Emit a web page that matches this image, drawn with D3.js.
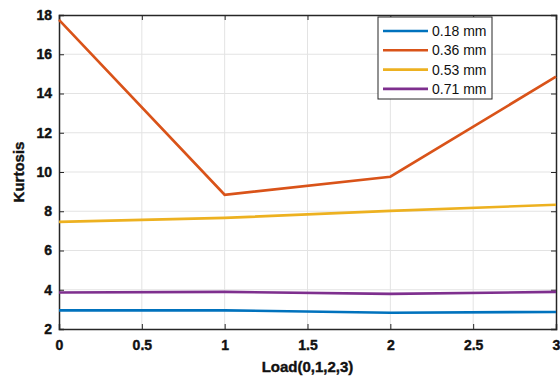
<!DOCTYPE html>
<html><head><meta charset="utf-8">
<script src="https://cdn.jsdelivr.net/npm/d3@7"></script>
<style>body{margin:0;background:#fff}svg{display:block}</style>
</head><body>
<script>
const loads = [0, 1, 2, 3];
const seriesNames = ["0.18 mm", "0.36 mm", "0.53 mm", "0.71 mm"];
const s018 = [2.95, 2.95, 2.83, 2.87];
const s036 = [17.75, 8.84, 9.76, 14.86];
const s053 = [7.46, 7.66, 8.02, 8.33];
const s071 = [3.86, 3.89, 3.79, 3.89];
const colors = ["#0072BD", "#D95319", "#EDB120", "#7E2F8E"];
const xTicks = [0, 0.5, 1, 1.5, 2, 2.5, 3];
const yTicks = [2, 4, 6, 8, 10, 12, 14, 16, 18];
const allSeries = [s018, s036, s053, s071];

const W = 560, H = 379;
const L = 59, R = 556, T = 15, B = 329;
const svg = d3.select("body").append("svg").attr("width", W).attr("height", H);
const x = d3.scaleLinear().domain([0, 3]).range([L, R]);
const y = d3.scaleLinear().domain([2, 18]).range([B, T]);

// grid
svg.append("g").selectAll("line").data(xTicks.slice(1, -1)).join("line")
  .attr("x1", d => x(d)).attr("x2", d => x(d)).attr("y1", T).attr("y2", B)
  .attr("stroke", "#e3e3e3").attr("stroke-width", 1);
svg.append("g").selectAll("line").data(yTicks.slice(1, -1)).join("line")
  .attr("y1", d => y(d)).attr("y2", d => y(d)).attr("x1", L).attr("x2", R)
  .attr("stroke", "#e3e3e3").attr("stroke-width", 1);

const font = "'Liberation Sans', Arial, sans-serif";
// axes
const xAxis = svg.append("g").attr("transform", `translate(0,${B})`)
  .call(d3.axisBottom(x).tickValues(xTicks).tickSize(-5).tickPadding(11).tickFormat(d3.format("")));
const yAxis = svg.append("g").attr("transform", `translate(${L},0)`)
  .call(d3.axisLeft(y).tickValues(yTicks).tickSize(-5).tickPadding(7));
const xTop = svg.append("g").attr("transform", `translate(0,${T})`)
  .call(d3.axisTop(x).tickValues(xTicks).tickSize(-5).tickFormat(""));
const yRight = svg.append("g").attr("transform", `translate(${R},0)`)
  .call(d3.axisRight(y).tickValues(yTicks).tickSize(-5).tickFormat(""));
[xAxis, yAxis, xTop, yRight].forEach(g => {
  g.select(".domain").attr("stroke", "#262626").attr("stroke-width", 1.5);
  g.selectAll(".tick line").attr("stroke", "#262626");
  g.selectAll("text").attr("font-family", font).attr("font-weight", "bold")
    .attr("font-size", 14).attr("fill", "#111")
    .attr("stroke", "#111").attr("stroke-width", 0.4);
});

// lines
const line = d3.line().x((d, i) => x(loads[i])).y(d => y(d));
svg.append("g").selectAll("path").data(allSeries).join("path")
  .attr("d", d => line(d)).attr("fill", "none")
  .attr("stroke", (d, i) => colors[i]).attr("stroke-width", 2.6);

// axis labels
svg.append("text").attr("x", (L + R) / 2).attr("y", 372).attr("text-anchor", "middle")
  .attr("font-family", font).attr("font-weight", "bold").attr("font-size", 15).attr("fill", "#111")
  .attr("stroke", "#111").attr("stroke-width", 0.4)
  .text("Load(0,1,2,3)");
svg.append("text").attr("transform", `translate(24,${(T + B) / 2}) rotate(-90)`)
  .attr("text-anchor", "middle")
  .attr("font-family", font).attr("font-weight", "bold").attr("font-size", 15).attr("fill", "#111")
  .attr("stroke", "#111").attr("stroke-width", 0.4)
  .text("Kurtosis");

// legend
const lg = svg.append("g");
lg.append("rect").attr("x", 378).attr("y", 17).attr("width", 114).attr("height", 82)
  .attr("fill", "#fff").attr("stroke", "#262626").attr("stroke-width", 1);
seriesNames.forEach((n, i) => {
  const yy = 31 + i * 19.3;
  lg.append("line").attr("x1", 383).attr("x2", 428).attr("y1", yy).attr("y2", yy)
    .attr("stroke", colors[i]).attr("stroke-width", 2.6);
  lg.append("text").attr("x", 432).attr("y", yy + 5).attr("font-family", font)
    .attr("font-size", 14).attr("fill", "#111").text(n);
});
</script>
</body></html>
